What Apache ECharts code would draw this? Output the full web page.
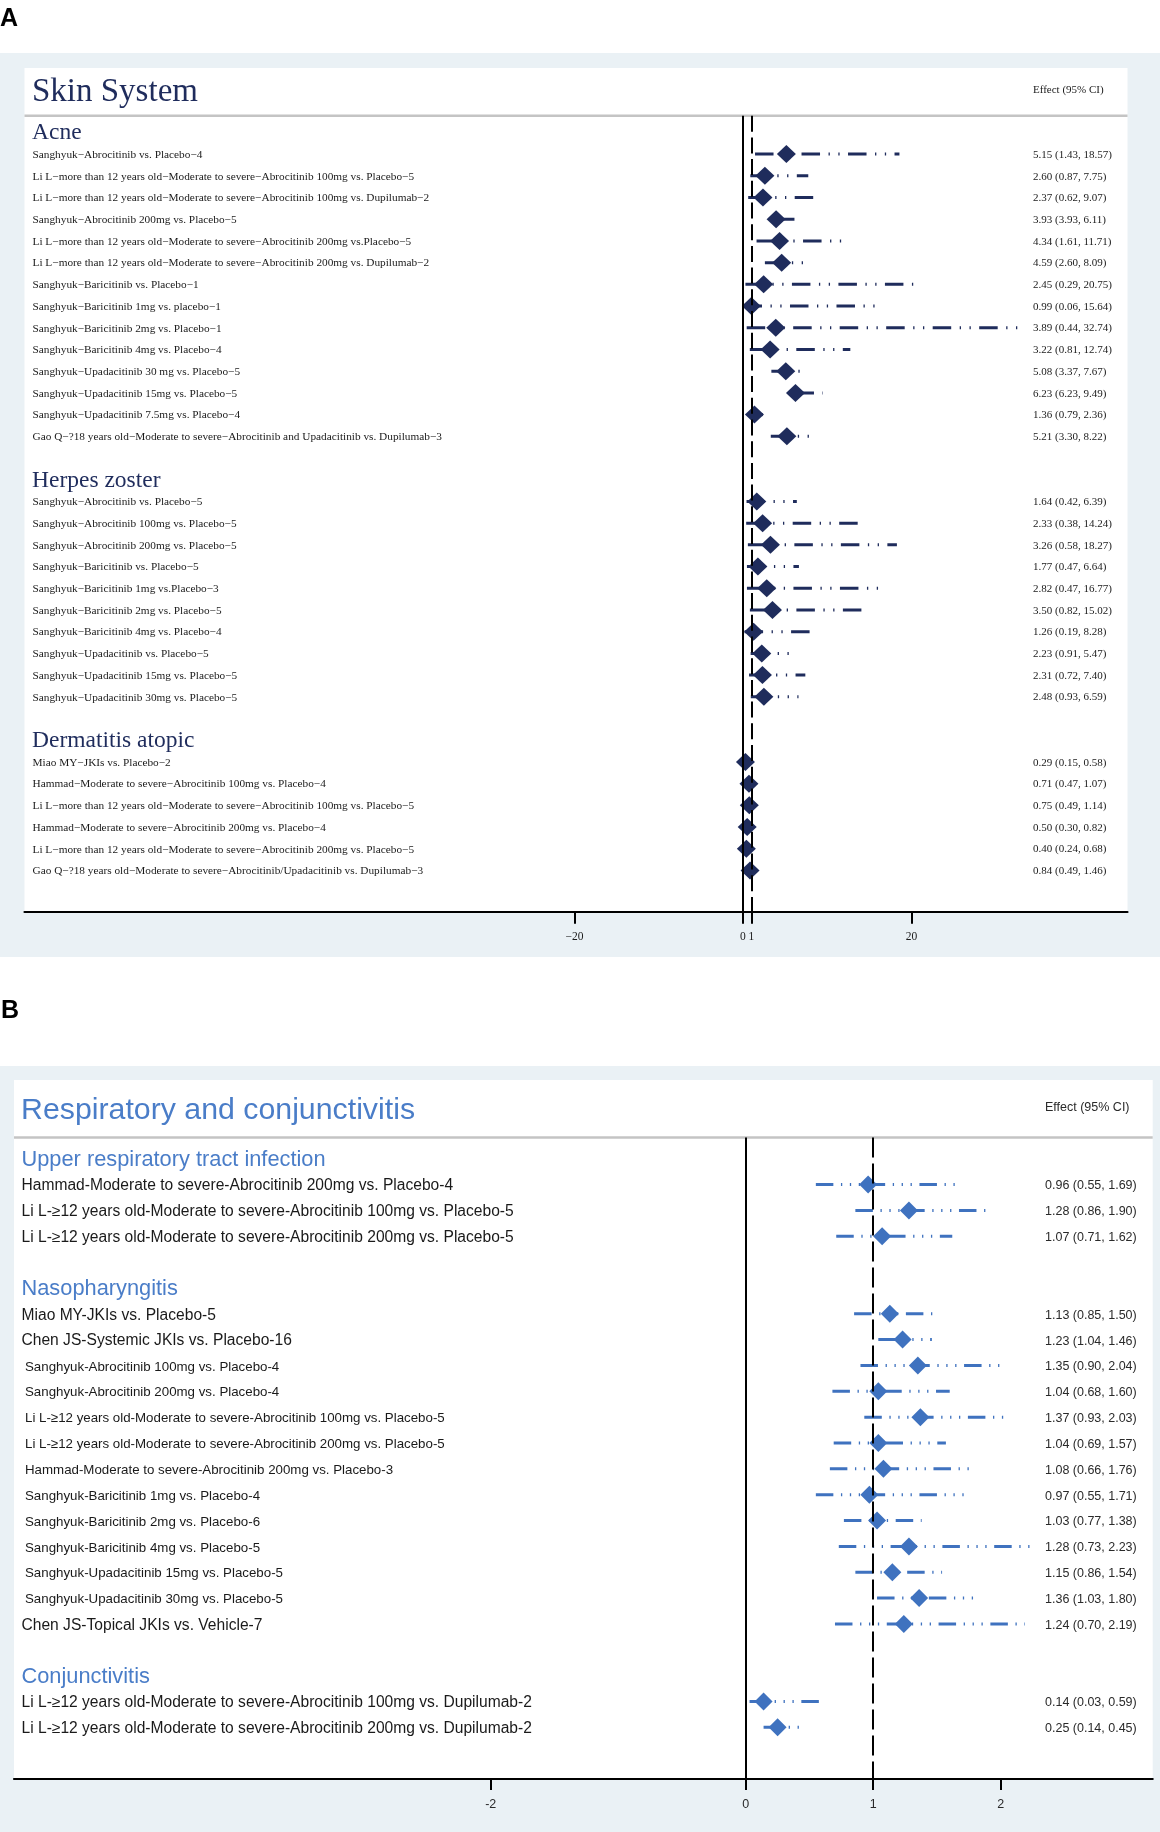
<!DOCTYPE html>
<html><head><meta charset="utf-8">
<script src="https://cdn.jsdelivr.net/npm/echarts@6/dist/echarts.min.js"></script>
<style>html,body{margin:0;padding:0;background:#fff}#c{width:1160px;height:1832px}</style>
</head><body><div id="c"></div>
<script>
// ===== Panel A: Skin System =====
const acneLabels = [
  'Sanghyuk\u2212Abrocitinib vs. Placebo\u22124',
  'Li L\u2212more than 12 years old\u2212Moderate to severe\u2212Abrocitinib 100mg vs. Placebo\u22125',
  'Li L\u2212more than 12 years old\u2212Moderate to severe\u2212Abrocitinib 100mg vs. Dupilumab\u22122',
  'Sanghyuk\u2212Abrocitinib 200mg vs. Placebo\u22125',
  'Li L\u2212more than 12 years old\u2212Moderate to severe\u2212Abrocitinib 200mg vs.Placebo\u22125',
  'Li L\u2212more than 12 years old\u2212Moderate to severe\u2212Abrocitinib 200mg vs. Dupilumab\u22122',
  'Sanghyuk\u2212Baricitinib vs. Placebo\u22121',
  'Sanghyuk\u2212Baricitinib 1mg vs. placebo\u22121',
  'Sanghyuk\u2212Baricitinib 2mg vs. Placebo\u22121',
  'Sanghyuk\u2212Baricitinib 4mg vs. Placebo\u22124',
  'Sanghyuk\u2212Upadacitinib 30 mg vs. Placebo\u22125',
  'Sanghyuk\u2212Upadacitinib 15mg vs. Placebo\u22125',
  'Sanghyuk\u2212Upadacitinib 7.5mg vs. Placebo\u22124',
  'Gao Q\u2212?18 years old\u2212Moderate to severe\u2212Abrocitinib and Upadacitinib vs. Dupilumab\u22123'
];
const acneEffect = [5.15, 2.60, 2.37, 3.93, 4.34, 4.59, 2.45, 0.99, 3.89, 3.22, 5.08, 6.23, 1.36, 5.21];
const acneLower  = [1.43, 0.87, 0.62, 3.93, 1.61, 2.60, 0.29, 0.06, 0.44, 0.81, 3.37, 6.23, 0.79, 3.30];
const acneUpper  = [18.57, 7.75, 9.07, 6.11, 11.71, 8.09, 20.75, 15.64, 32.74, 12.74, 7.67, 9.49, 2.36, 8.22];

const herpesLabels = [
  'Sanghyuk\u2212Abrocitinib vs. Placebo\u22125',
  'Sanghyuk\u2212Abrocitinib 100mg vs. Placebo\u22125',
  'Sanghyuk\u2212Abrocitinib 200mg vs. Placebo\u22125',
  'Sanghyuk\u2212Baricitinib vs. Placebo\u22125',
  'Sanghyuk\u2212Baricitinib 1mg vs.Placebo\u22123',
  'Sanghyuk\u2212Baricitinib 2mg vs. Placebo\u22125',
  'Sanghyuk\u2212Baricitinib 4mg vs. Placebo\u22124',
  'Sanghyuk\u2212Upadacitinib vs. Placebo\u22125',
  'Sanghyuk\u2212Upadacitinib 15mg vs. Placebo\u22125',
  'Sanghyuk\u2212Upadacitinib 30mg vs. Placebo\u22125'
];
const herpesEffect = [1.64, 2.33, 3.26, 1.77, 2.82, 3.50, 1.26, 2.23, 2.31, 2.48];
const herpesLower  = [0.42, 0.38, 0.58, 0.47, 0.47, 0.82, 0.19, 0.91, 0.72, 0.93];
const herpesUpper  = [6.39, 14.24, 18.27, 6.64, 16.77, 15.02, 8.28, 5.47, 7.40, 6.59];

const dermLabels = [
  'Miao MY\u2212JKIs vs. Placebo\u22122',
  'Hammad\u2212Moderate to severe\u2212Abrocitinib 100mg vs. Placebo\u22124',
  'Li L\u2212more than 12 years old\u2212Moderate to severe\u2212Abrocitinib 100mg vs. Placebo\u22125',
  'Hammad\u2212Moderate to severe\u2212Abrocitinib 200mg vs. Placebo\u22124',
  'Li L\u2212more than 12 years old\u2212Moderate to severe\u2212Abrocitinib 200mg vs. Placebo\u22125',
  'Gao Q\u2212?18 years old\u2212Moderate to severe\u2212Abrocitinib/Upadacitinib vs. Dupilumab\u22123'
];
const dermEffect = [0.29, 0.71, 0.75, 0.50, 0.40, 0.84];
const dermLower  = [0.15, 0.47, 0.49, 0.30, 0.24, 0.49];
const dermUpper  = [0.58, 1.07, 1.14, 0.82, 0.68, 1.46];

// ===== Panel B: Respiratory and conjunctivitis =====
const urtiLabels = [
  'Hammad-Moderate to severe-Abrocitinib 200mg vs. Placebo-4',
  'Li L-\u226512 years old-Moderate to severe-Abrocitinib 100mg vs. Placebo-5',
  'Li L-\u226512 years old-Moderate to severe-Abrocitinib 200mg vs. Placebo-5'
];
const urtiEffect = [0.96, 1.28, 1.07];
const urtiLower  = [0.55, 0.86, 0.71];
const urtiUpper  = [1.69, 1.90, 1.62];

const nasoLabels = [
  'Miao MY-JKIs vs. Placebo-5',
  'Chen JS-Systemic JKIs vs. Placebo-16',
  'Sanghyuk-Abrocitinib 100mg vs. Placebo-4',
  'Sanghyuk-Abrocitinib 200mg vs. Placebo-4',
  'Li L-\u226512 years old-Moderate to severe-Abrocitinib 100mg vs. Placebo-5',
  'Li L-\u226512 years old-Moderate to severe-Abrocitinib 200mg vs. Placebo-5',
  'Hammad-Moderate to severe-Abrocitinib 200mg vs. Placebo-3',
  'Sanghyuk-Baricitinib 1mg vs. Placebo-4',
  'Sanghyuk-Baricitinib 2mg vs. Placebo-6',
  'Sanghyuk-Baricitinib 4mg vs. Placebo-5',
  'Sanghyuk-Upadacitinib 15mg vs. Placebo-5',
  'Sanghyuk-Upadacitinib 30mg vs. Placebo-5',
  'Chen JS-Topical JKIs vs. Vehicle-7'
];
const nasoEffect = [1.13, 1.23, 1.35, 1.04, 1.37, 1.04, 1.08, 0.97, 1.03, 1.28, 1.15, 1.36, 1.24];
const nasoLower  = [0.85, 1.04, 0.90, 0.68, 0.93, 0.69, 0.66, 0.55, 0.77, 0.73, 0.86, 1.03, 0.70];
const nasoUpper  = [1.50, 1.46, 2.04, 1.60, 2.03, 1.57, 1.76, 1.71, 1.38, 2.23, 1.54, 1.80, 2.19];

const conjLabels = [
  'Li L-\u226512 years old-Moderate to severe-Abrocitinib 100mg vs. Dupilumab-2',
  'Li L-\u226512 years old-Moderate to severe-Abrocitinib 200mg vs. Dupilumab-2'
];
const conjEffect = [0.14, 0.25];
const conjLower  = [0.03, 0.14];
const conjUpper  = [0.59, 0.45];

const xTicksA = [-20, 0, 1, 20];
const xTicksB = [-2, 0, 1, 2];
const pooledStudies = ['Miao MY', 'Chen JS'];

// ---------- build rows (heading, studies, blank) ----------
function buildRows(groups) {
  const rows = []; let r = 0;
  groups.forEach(g => {
    rows.push({kind: 'heading', text: g.name, row: r++});
    g.labels.forEach((lab, i) => rows.push({
      kind: 'study', text: lab, est: g.effect[i], lo: g.lower[i], hi: g.upper[i], row: r++, group: g.name
    }));
    r++;
  });
  return rows;
}
const rowsA = buildRows([
  {name: 'Acne', labels: acneLabels, effect: acneEffect, lower: acneLower, upper: acneUpper},
  {name: 'Herpes zoster', labels: herpesLabels, effect: herpesEffect, lower: herpesLower, upper: herpesUpper},
  {name: 'Dermatitis atopic', labels: dermLabels, effect: dermEffect, lower: dermLower, upper: dermUpper}
]);
const rowsB = buildRows([
  {name: 'Upper respiratory tract infection', labels: urtiLabels, effect: urtiEffect, lower: urtiLower, upper: urtiUpper},
  {name: 'Nasopharyngitis', labels: nasoLabels, effect: nasoEffect, lower: nasoLower, upper: nasoUpper},
  {name: 'Conjunctivitis', labels: conjLabels, effect: conjEffect, lower: conjLower, upper: conjUpper}
]);

const SERIF = '"Liberation Serif","Times New Roman",serif';
const SANS = '"Liberation Sans",Arial,sans-serif';

const cfgA = {
  color: '#1f2c5c', ciWidth: 3, ciDash: [18.5, 8.5, 1.3, 8.5, 1.3, 8.4], diamond: [19, 18],
  refDash: [16, 5.7], textDy: 0.8,
  labelX: 8, effX: 1008.5,
  labelFont: () => '11.3px ' + SERIF, labelColor: '#1a1a1a',
  headFont: '23.5px ' + SERIF, headColor: '#1f2c5c', headX: 7.5,
  effFont: '11px ' + SERIF, effColor: '#1a1a1a'
};
const cfgB = {
  color: '#3f72bf', ciWidth: 3, ciDash: [17.5, 7.6, 1.3, 7.6, 1.3, 7.6, 1.3, 7.6], diamond: [18, 18],
  refDash: [20, 6], textDy: 1.5,
  labelX: 7.5, effX: 1031,
  labelFont: (r) => (r.group === 'Nasopharyngitis' && !pooledStudies.some(p => r.text.indexOf(p) === 0)) ? '13.3px ' + SANS : '15.6px ' + SANS,
  smallOffset: 3.5, labelColor: '#1a1a1a',
  headFont: '21.8px ' + SANS, headColor: '#4a7dc8', headX: 7.5,
  effFont: '12.5px ' + SANS, effColor: '#2a2a2a'
};

function panelSeries(pi, rows, cfg) {
  const studies = rows.filter(r => r.kind === 'study');
  return [
    { type: 'line', xAxisIndex: pi, yAxisIndex: pi, data: [], z: 1, silent: true, animation: false,
      markLine: { silent: true, symbol: ['none', 'none'], label: {show: false}, animation: false,
        data: [
          {xAxis: 0, lineStyle: {type: 'solid', color: '#000', width: 2}},
          {xAxis: 1, lineStyle: {type: cfg.refDash, color: '#000', width: 2}}
        ] } },
    { type: 'custom', xAxisIndex: pi, yAxisIndex: pi, z: 2, silent: true, animation: false,
      data: studies.map(s => [s.lo, s.hi, s.row]),
      encode: {x: [0, 1], y: 2},
      renderItem: (params, api) => {
        const p1 = api.coord([api.value(0), api.value(2)]);
        const p2 = api.coord([api.value(1), api.value(2)]);
        return { type: 'line', shape: {x1: p1[0], y1: p1[1], x2: p2[0], y2: p2[1]},
          style: {stroke: cfg.color, lineWidth: cfg.ciWidth, lineDash: cfg.ciDash, lineCap: 'butt'} };
      } },
    { type: 'scatter', xAxisIndex: pi, yAxisIndex: pi, z: 3, silent: true, animation: false,
      symbol: 'diamond', symbolSize: cfg.diamond, itemStyle: {color: cfg.color, opacity: 1},
      data: studies.map(s => [s.est, s.row]) },
    { type: 'custom', xAxisIndex: pi, yAxisIndex: pi, z: 4, silent: true, animation: false,
      data: rows.map((r, i) => [0, r.row, i]),
      encode: {x: 0, y: 1},
      renderItem: (params, api) => {
        const r = rows[api.value(2)];
        const cs = params.coordSys;
        const y = api.coord([0, r.row])[1] + cfg.textDy;
        if (r.kind === 'heading') {
          return { type: 'text', x: cs.x + cfg.headX, y: y,
            style: {text: r.text, font: cfg.headFont, fill: cfg.headColor, align: 'left', verticalAlign: 'middle'} };
        }
        const f = cfg.labelFont(r);
        const small = f.indexOf('13.3px') === 0;
        return { type: 'group', children: [
          { type: 'text', x: cs.x + cfg.labelX + (small ? cfg.smallOffset : 0), y: y,
            style: {text: r.text, font: f, fill: cfg.labelColor, align: 'left', verticalAlign: 'middle'} },
          { type: 'text', x: cs.x + cfg.effX, y: y,
            style: {text: r.est.toFixed(2) + ' (' + r.lo.toFixed(2) + ', ' + r.hi.toFixed(2) + ')',
              font: cfg.effFont, fill: cfg.effColor, align: 'left', verticalAlign: 'middle'} }
        ] };
      } }
  ];
}

const BG = '#eaf1f5';
const chart = echarts.init(document.getElementById('c'), null, {renderer: 'canvas'});
chart.setOption({
  animation: false,
  backgroundColor: '#ffffff',
  graphic: [
    {type: 'rect', z: -10, shape: {x: 0, y: 53, width: 1160, height: 904}, style: {fill: BG}},
    {type: 'rect', z: -9, shape: {x: 24.5, y: 68, width: 1103, height: 843.7}, style: {fill: '#ffffff'}},
    {type: 'rect', z: -8, shape: {x: 24.5, y: 114.5, width: 1103, height: 2.4}, style: {fill: '#c4c4c4'}},
    {type: 'text', z: 10, x: 0, y: 19, style: {text: 'A', font: 'bold 25px ' + SANS, fill: '#000', verticalAlign: 'middle'}},
    {type: 'text', z: 10, x: 32, y: 92.5, style: {text: 'Skin System', font: '33px ' + SERIF, fill: '#1f2c5c', verticalAlign: 'middle'}},
    {type: 'text', z: 10, x: 1033, y: 90, style: {text: 'Effect (95% CI)', font: '11px ' + SERIF, fill: '#1a1a1a', verticalAlign: 'middle'}},

    {type: 'rect', z: -10, shape: {x: 0, y: 1066, width: 1160, height: 766}, style: {fill: BG}},
    {type: 'rect', z: -9, shape: {x: 14, y: 1080, width: 1138.7, height: 699}, style: {fill: '#ffffff'}},
    {type: 'rect', z: -8, shape: {x: 14, y: 1136.3, width: 1138.7, height: 2.4}, style: {fill: '#c4c4c4'}},
    {type: 'text', z: 10, x: 1, y: 1011, style: {text: 'B', font: 'bold 25px ' + SANS, fill: '#000', verticalAlign: 'middle'}},
    {type: 'text', z: 10, x: 21, y: 1110.5, style: {text: 'Respiratory and conjunctivitis', font: '30.3px ' + SANS, fill: '#4a7dc8', verticalAlign: 'middle'}},
    {type: 'text', z: 10, x: 1045, y: 1107.5, style: {text: 'Effect (95% CI)', font: '12.5px ' + SANS, fill: '#2a2a2a', verticalAlign: 'middle'}}
  ],
  grid: [
    {left: 24.5, right: 32.5, top: 115.7, height: 796, containLabel: false},
    {left: 14, right: 7.3, top: 1137.5, height: 641.5, containLabel: false}
  ],
  xAxis: [
    {type: 'value', gridIndex: 0, min: -85.28, max: 45.64, z: 5,
      axisLine: {show: true, onZero: false, lineStyle: {color: '#000', width: 2.2}},
      axisTick: {show: true, customValues: xTicksA, length: 12, lineStyle: {color: '#000', width: 2}},
      axisLabel: {show: true, customValues: xTicksA, margin: 19, color: '#1a1a1a', fontFamily: SERIF, fontSize: 11.5,
        formatter: v => v < 0 ? '\u2212' + Math.abs(v) : String(v)},
      splitLine: {show: false}},
    {type: 'value', gridIndex: 1, min: -5.739, max: 3.192, z: 5,
      axisLine: {show: true, onZero: false, lineStyle: {color: '#000', width: 2.2}},
      axisTick: {show: true, customValues: xTicksB, length: 11, lineStyle: {color: '#000', width: 2}},
      axisLabel: {show: true, customValues: xTicksB, margin: 19, color: '#2a2a2a', fontFamily: SANS, fontSize: 12.5},
      splitLine: {show: false}}
  ],
  yAxis: [
    {type: 'value', gridIndex: 0, min: -0.77, max: 35.9, inverse: true, show: false, splitLine: {show: false}},
    {type: 'value', gridIndex: 1, min: -0.82, max: 24, inverse: true, show: false, splitLine: {show: false}}
  ],
  series: [].concat(panelSeries(0, rowsA, cfgA), panelSeries(1, rowsB, cfgB))
});
</script>
</body></html>
